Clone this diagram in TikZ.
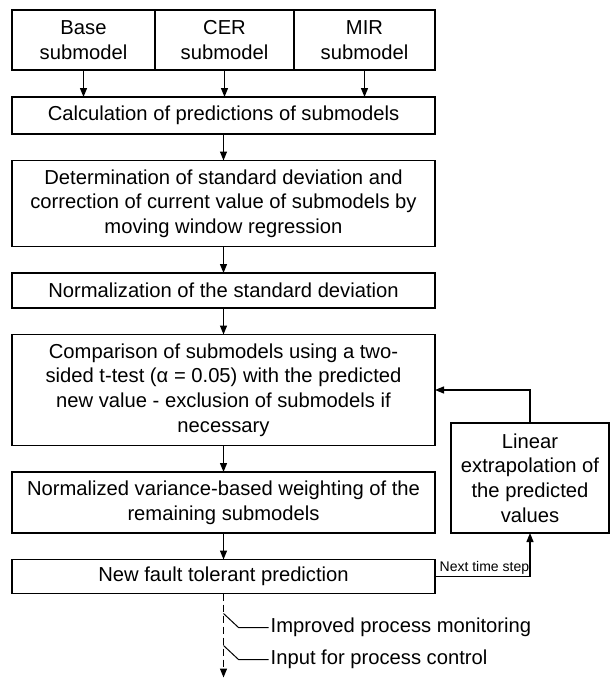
\documentclass[tikz,border=0pt]{standalone}
\usepackage{fontspec}
\setmainfont{Liberation Sans}
\usetikzlibrary{arrows.meta, positioning, calc}

\begin{document}
\begin{tikzpicture}[x=1pt, y=1pt, >={Triangle[length=9pt,width=7pt]},
    node distance=26.5pt,
    box/.style={draw, line width=1.8pt, outer sep=0pt, inner sep=2pt, align=center,
                font=\fontsize{20.2}{24.7}\selectfont, minimum width=423pt},
    subbox/.style={box, minimum height=60pt},
    flow/.style={->, line width=1.2pt},
    smalltext/.style={font=\fontsize{14}{16}\selectfont, inner sep=1.5pt},
    outtext/.style={font=\fontsize{20.2}{24}\selectfont, anchor=west, inner sep=2pt}]
    \useasboundingbox (0,0) rectangle (611,-680);

    % Define the nodes
    \node[subbox, minimum width=143pt] (base) at (83.5,-40) {Base\\submodel};
    \node[subbox, minimum width=139pt, right=0pt of base] (cer) {CER\\submodel};
    \node[subbox, minimum width=141pt, right=0pt of cer] (mir) {MIR\\submodel};
    \node[box, minimum height=37pt] (calc) at (223.5,-115.5) {Calculation of predictions of submodels};
    \node[box, minimum height=86pt, below=of calc] (det)
        {Determination of standard deviation and\\correction of current value of submodels by\\moving window regression};
    \node[box, minimum height=35pt, below=of det] (norm) {Normalization of the standard deviation};
    \node[box, minimum height=111pt, below=of norm] (comp)
        {Comparison of submodels using a two-\\sided t-test (α = 0.05) with the predicted\\new value - exclusion of submodels if\\necessary};
    \node[box, minimum height=61pt, below=of comp] (wgt)
        {Normalized variance-based weighting of the\\remaining submodels};
    \node[box, minimum height=34pt, below=of wgt] (nf) {New fault tolerant prediction};
    \node[box, minimum width=158pt, minimum height=110pt] (lin) at (530,-478)
        {Linear\\extrapolation of\\the predicted\\values};

    % Outputs
    \coordinate (out) at ($(nf.south)+(0,-84)$);
    \coordinate (k1) at ($(nf.south)+(0,-20)$);
    \coordinate (k2) at ($(nf.south)+(0,-52)$);
    \node[outtext] (imp) at ($(k1)+(45,-14)$) {Improved process monitoring};
    \node[outtext] (ctrl) at ($(k2)+(45,-14)$) {Input for process control};

    % Draw the edges
    \foreach \m in {base, cer, mir}
        \draw[flow] (\m.south) -- (\m.south |- calc.north);
    \draw[flow] (calc) -- (det);
    \draw[flow] (det) -- (norm);
    \draw[flow] (norm) -- (comp);
    \draw[flow] (comp) -- (wgt);
    \draw[flow] (wgt) -- (nf);
    \draw[flow] (nf.east) -| node[smalltext, pos=0.26, above] {Next time step} (lin.south);
    \draw[flow] (lin.north) |- (comp.east);
    \draw[flow, dash pattern=on 7pt off 4pt] (nf.south) -- (out);
    \draw[line width=1pt] (k1) -- ++(15,-14) -- (imp.west);
    \draw[line width=1pt] (k2) -- ++(15,-14) -- (ctrl.west);
\end{tikzpicture}
\end{document}
